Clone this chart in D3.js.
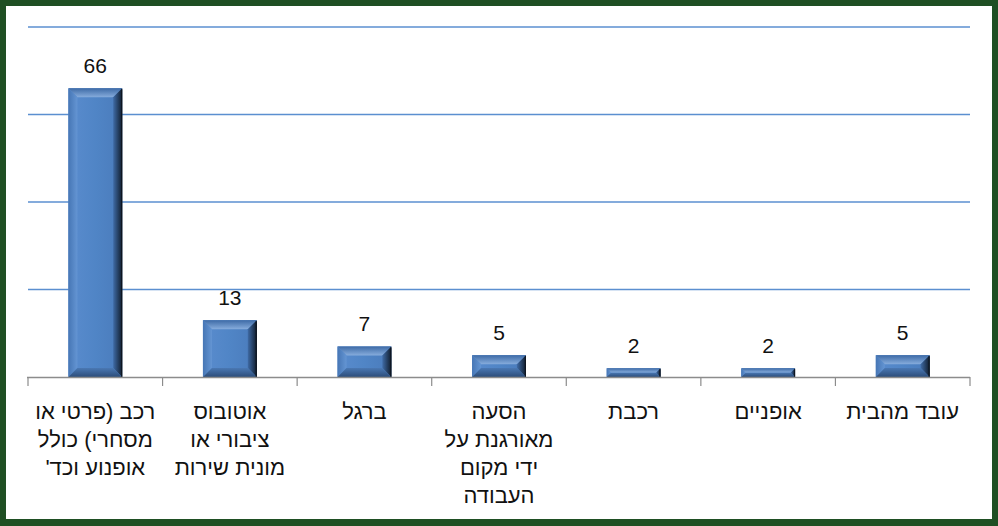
<!DOCTYPE html>
<html><head><meta charset="utf-8">
<script src="https://cdn.jsdelivr.net/npm/d3@7"></script>
<style>
html,body{margin:0;padding:0;background:#fff;}
svg{display:block;}
</style></head>
<body>
<svg id="c" width="998" height="526"></svg>
<script>
const categories = [
  "רכב (פרטי או\nמסחרי) כולל\nאופנוע וכד'",
  "אוטובוס\nציבורי או\nמונית שירות",
  "ברגל",
  "הסעה\nמאורגנת על\nידי מקום\nהעבודה",
  "רכבת",
  "אופניים",
  "עובד מהבית"
];
const values = [66, 13, 7, 5, 2, 2, 5];
const yTicks = [0, 20, 40, 60, 80];

const svg = d3.select("#c");
const W = 998, H = 526;
const font = "'Liberation Sans', Arial, sans-serif";

// frame
svg.append("rect").attr("x",0).attr("y",0).attr("width",W).attr("height",H).attr("fill","#1f4f23");
svg.append("rect").attr("x",6).attr("y",6).attr("width",986).attr("height",513).attr("fill","#ffffff");

const x = d3.scaleBand().domain(d3.range(categories.length)).range([28, 970]).paddingInner(0.6).paddingOuter(0.3);
const y = d3.scaleLinear().domain([0, 80]).range([377, 27]);

// gridlines
svg.append("g").selectAll("line").data(yTicks.filter(d=>d>0)).join("line")
  .attr("x1",28).attr("x2",970).attr("y1",d=>y(d)).attr("y2",d=>y(d))
  .attr("stroke","#5b8fd0").attr("stroke-width",1.5);

// defs gradients
const defs = svg.append("defs");
function lg(id, x2, y2, stops){
  const g = defs.append("linearGradient").attr("id",id).attr("x1",0).attr("y1",0).attr("x2",x2).attr("y2",y2);
  stops.forEach(s=>g.append("stop").attr("offset",s[0]).attr("stop-color",s[1]));
}
lg("face",1,0,[[0,"#5a8cce"],[0.5,"#5085c6"],[1,"#4a7bbb"]]);
lg("top",0,1,[[0,"#3d6aa6"],[1,"#86acdc"]]);
lg("left",1,0,[[0,"#4676b5"],[1,"#6495d3"]]);
lg("right",1,0,[[0,"#3f6ba6"],[1,"#101c2c"]]);
lg("bottom",0,1,[[0,"#4a78b3"],[1,"#2c4d7a"]]);

const bars = svg.append("g").selectAll("g").data(values).join("g");
bars.each(function(v,i){
  const g = d3.select(this);
  const x0 = x(i), w = x.bandwidth(), y0 = y(v), y1 = y(0), h = y1 - y0;
  const b = Math.min(9, h/2, w/2);
  g.append("rect").attr("x",x0).attr("y",y0).attr("width",w).attr("height",h).attr("fill","url(#face)");
  const poly = (pts, f) => g.append("polygon").attr("points", pts.map(p=>p.join(",")).join(" ")).attr("fill", f);
  poly([[x0,y0],[x0+w,y0],[x0+w-b,y0+b],[x0+b,y0+b]], "url(#top)");
  poly([[x0,y0],[x0+b,y0+b],[x0+b,y1-b],[x0,y1]], "url(#left)");
  poly([[x0+w,y0],[x0+w,y1],[x0+w-b,y1-b],[x0+w-b,y0+b]], "url(#right)");
  poly([[x0,y1],[x0+b,y1-b],[x0+w-b,y1-b],[x0+w,y1]], "url(#bottom)");
  g.append("line").attr("x1",x0+w-0.5).attr("x2",x0+w-0.5).attr("y1",y0+1).attr("y2",y1).attr("stroke","#0d1520").attr("stroke-width",1.2);
});

// value labels
svg.append("g").selectAll("text").data(values).join("text")
  .attr("x",(d,i)=>x(i)+x.bandwidth()/2).attr("y",d=>y(d)-15)
  .attr("text-anchor","middle").attr("font-family",font).attr("font-size",21).attr("fill","#111")
  .text(d=>d);

// x axis
const ax = svg.append("g");
ax.append("line").attr("x1",27).attr("x2",970).attr("y1",377.5).attr("y2",377.5).attr("stroke","#8c8c8c").attr("stroke-width",1.5);
const edges = d3.range(categories.length+1).map(i=> 28 + i*x.step());
ax.selectAll("line.t").data(edges).join("line").attr("class","t")
  .attr("x1",d=>d).attr("x2",d=>d).attr("y1",377).attr("y2",386).attr("stroke","#8c8c8c").attr("stroke-width",1.2);

const lbl = svg.append("g").selectAll("text").data(categories).join("text")
  .attr("x",(d,i)=>x(i)+x.bandwidth()/2).attr("y",419)
  .attr("text-anchor","middle").attr("direction","rtl")
  .attr("font-family",font).attr("font-size",22).attr("fill","#111");
lbl.each(function(d){
  const t = d3.select(this);
  d.split("\n").forEach((line,k)=>{
    t.append("tspan").attr("x",t.attr("x")).attr("dy",k===0?0:28).text(line);
  });
});
</script>
</body></html>
